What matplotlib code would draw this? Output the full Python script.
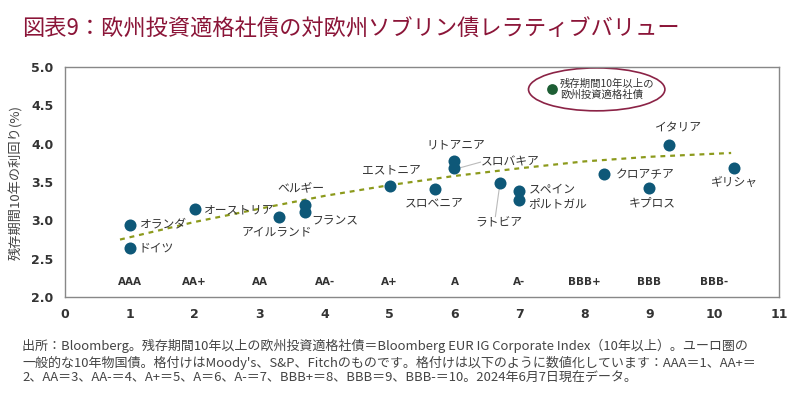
import numpy as np
import matplotlib.pyplot as plt
from matplotlib.patches import Ellipse

plt.rcParams['font.family'] = ['Noto Sans CJK JP', 'DejaVu Sans']

# 国債（格付け数値, 利回り）
countries = ["ドイツ", "オランダ", "オーストリア", "アイルランド", "ベルギー", "フランス",
             "エストニア", "スロベニア", "リトアニア", "スロバキア", "ラトビア", "スペイン",
             "ポルトガル", "クロアチア", "キプロス", "イタリア", "ギリシャ"]
rating = [1.0, 1.0, 2.0, 3.3, 3.7, 3.7, 5.0, 5.7, 6.0, 6.0, 6.7, 7.0, 7.0, 8.3, 9.0, 9.3, 10.3]
yields = [2.64, 2.94, 3.15, 3.05, 3.20, 3.11, 3.45, 3.41, 3.77, 3.68, 3.49, 3.38, 3.26, 3.60, 3.42, 3.98, 3.69]

# 残存期間10年以上の欧州投資適格社債
corp_rating = 7.5
corp_yield = 4.72

# トレンドライン
trend_x = [0.85, 2, 3.1, 4, 5, 6, 7, 8, 9, 10.26]
trend_y = [2.75, 2.98, 3.17, 3.32, 3.46, 3.58, 3.68, 3.77, 3.83, 3.88]

rating_pos = [1, 2, 3, 4, 5, 6, 7, 8, 9, 10]
rating_names = ["AAA", "AA+", "AA", "AA-", "A+", "A", "A-", "BBB+", "BBB", "BBB-"]

# ラベル位置 (x, y, ha)
label_pos = {
    "ドイツ": (1.13, 2.64, "left"),
    "オランダ": (1.15, 2.96, "left"),
    "オーストリア": (2.15, 3.14, "left"),
    "アイルランド": (3.26, 2.85, "center"),
    "ベルギー": (3.64, 3.42, "center"),
    "フランス": (3.80, 2.99, "left"),
    "エストニア": (5.03, 3.66, "center"),
    "スロベニア": (5.69, 3.23, "center"),
    "リトアニア": (6.02, 3.98, "center"),
    "スロバキア": (6.41, 3.77, "left"),
    "ラトビア": (6.69, 2.97, "center"),
    "スペイン": (7.15, 3.41, "left"),
    "ポルトガル": (7.14, 3.22, "left"),
    "クロアチア": (8.48, 3.60, "left"),
    "キプロス": (9.05, 3.23, "center"),
    "イタリア": (9.45, 4.20, "center"),
    "ギリシャ": (10.31, 3.50, "center"),
}

fig = plt.figure(figsize=(8, 3.95), dpi=100)
ax = fig.add_axes([0.081, 0.248, 0.893, 0.582])

blue = "#0E5878"
txt = "#333333"

ax.plot(trend_x, trend_y, color="#8C9A1C", lw=1.6, ls=(0, (2.2, 2.2)), zorder=2)

ax.scatter(rating, yields, s=75, color=blue, zorder=3, linewidths=0)
ax.scatter([corp_rating], [corp_yield], s=60, color="#1D5E34", zorder=3, linewidths=0)

for name in countries:
    x, y, ha = label_pos[name]
    ax.text(x, y, name, ha=ha, va="center", fontsize=8.5, color=txt)

# 引き出し線
ax.plot([6.10, 6.40], [3.69, 3.76], color="#bbbbbb", lw=0.8, zorder=1)
ax.plot([6.69, 6.63], [3.42, 3.05], color="#bbbbbb", lw=0.8, zorder=1)

ax.add_patch(Ellipse((8.19, 4.71), 2.10, 0.56, fill=False, edgecolor="#8B2346", lw=1.2))
ax.text(7.62, 4.71, "残存期間10年以上の\n欧州投資適格社債", ha="left", va="center",
        fontsize=7.5, color=txt, linespacing=1.2)

for p, r in zip(rating_pos, rating_names):
    ax.text(p, 2.2, r, ha="center", va="center", fontsize=7.5, color=txt,
            fontweight="bold", family="DejaVu Sans")

ax.set_xlim(0, 11)
ax.set_ylim(2.0, 5.0)
ax.set_xticks(range(0, 12))
ax.set_yticks(np.arange(2.0, 5.01, 0.5))
ax.set_yticklabels([f"{v:.1f}" for v in np.arange(2.0, 5.01, 0.5)])
ax.tick_params(length=0, labelsize=9, colors=txt, pad=8)
for lab in ax.get_xticklabels() + ax.get_yticklabels():
    lab.set_fontweight("bold")
    lab.set_family("DejaVu Sans")
for s in ax.spines.values():
    s.set_color("#888888")
    s.set_linewidth(1.0)

ax.set_ylabel("残存期間10年の利回り(%)", fontsize=9.5, color="#444444", labelpad=6)

fig.text(0.028, 0.925, "図表9：欧州投資適格社債の対欧州ソブリン債レラティブバリュー",
         fontsize=16, color="#8B1538", va="center", ha="left")

note = ("出所：Bloomberg。残存期間10年以上の欧州投資適格社債＝Bloomberg EUR IG Corporate Index（10年以上）。ユーロ圏の\n"
        "一般的な10年物国債。格付けはMoody's、S&P、Fitchのものです。格付けは以下のように数値化しています：AAA＝1、AA+＝\n"
        "2、AA＝3、AA-＝4、A+＝5、A＝6、A-＝7、BBB+＝8、BBB＝9、BBB-＝10。2024年6月7日現在データ。")
fig.text(0.028, 0.025, note, fontsize=9.4, color="#444444", va="bottom", ha="left", linespacing=1.25)

fig.savefig("out.png", dpi=100, facecolor="white")
